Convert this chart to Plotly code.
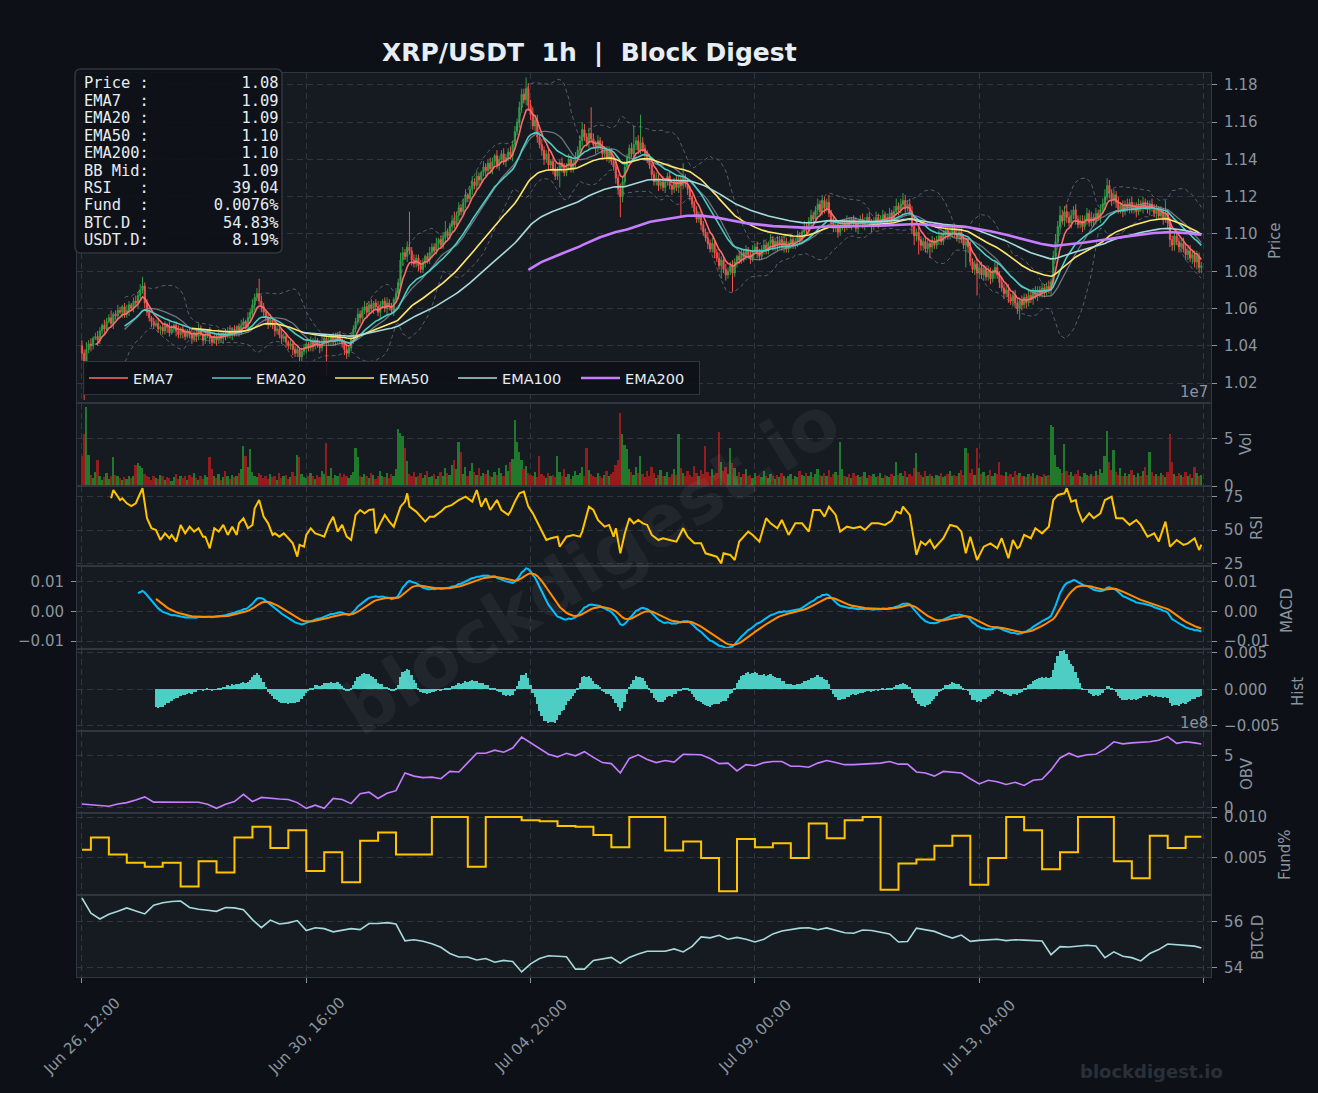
import numpy as np
import pandas as pd
import plotly.graph_objects as go
from plotly.subplots import make_subplots

# ---------------- data (hourly candles) ----------------
start_time = "2025-06-26 12:00"
first_open = 1.040

# closes in 1/1000 USDT
close_milli = [
    1036,1031,1038,1041,1040,1044,1045,1043,1048,1051,
    1049,1053,1055,1052,1057,1056,1059,1058,1061,1057,
    1059,1062,1060,1064,1063,1067,1070,1072,1063,1058,
    1055,1053,1051,1052,1049,1050,1048,1051,1050,1047,
    1049,1051,1048,1046,1049,1047,1045,1048,1046,1044,
    1047,1045,1049,1046,1043,1046,1047,1044,1042,1045,
    1043,1046,1044,1047,1045,1048,1046,1049,1047,1050,
    1048,1051,1053,1050,1055,1058,1062,1066,1068,1064,
    1061,1058,1055,1052,1054,1051,1048,1049,1046,1044,
    1045,1042,1040,1041,1038,1036,1038,1034,1037,1039,
    1041,1039,1042,1040,1043,1041,1039,1042,1044,1042,
    1043,1045,1042,1044,1046,1043,1041,1038,1036,1039,
    1044,1049,1053,1057,1055,1059,1061,1058,1062,1060,
    1063,1061,1058,1062,1064,1060,1063,1061,1059,1065,
    1068,1074,1086,1090,1088,1093,1091,1086,1084,1087,
    1083,1081,1085,1088,1086,1090,1093,1091,1095,1097,
    1094,1098,1101,1099,1104,1107,1105,1110,1114,1112,
    1117,1121,1119,1124,1128,1126,1131,1129,1133,1136,
    1134,1138,1135,1139,1142,1137,1140,1143,1139,1141,
    1144,1142,1148,1155,1160,1168,1175,1172,1178,1169,
    1164,1158,1161,1152,1148,1145,1140,1143,1137,1139,
    1135,1131,1134,1138,1136,1133,1137,1140,1135,1138,
    1141,1145,1150,1156,1152,1149,1154,1151,1148,1146,
    1150,1147,1143,1145,1141,1144,1139,1136,1130,1124,
    1120,1128,1136,1141,1146,1143,1148,1150,1145,1149,
    1146,1143,1140,1137,1132,1128,1130,1126,1128,1125,
    1128,1131,1126,1124,1128,1125,1129,1126,1130,1127,
    1124,1120,1116,1112,1108,1110,1105,1101,1098,1095,
    1092,1095,1090,1087,1083,1086,1081,1078,1080,1083,
    1079,1085,1088,1086,1090,1088,1091,1089,1087,1091,
    1093,1090,1088,1092,1094,1091,1095,1097,1093,1096,
    1094,1097,1093,1096,1092,1095,1097,1094,1096,1099,
    1097,1101,1104,1102,1107,1110,1108,1113,1116,1112,
    1118,1114,1117,1111,1106,1103,1105,1101,1104,1106,
    1104,1107,1105,1108,1106,1103,1106,1108,1105,1107,
    1109,1106,1104,1107,1109,1106,1108,1110,1107,1109,
    1111,1108,1112,1115,1113,1116,1118,1114,1116,1112,
    1104,1099,1101,1097,1094,1096,1092,1095,1093,1096,
    1094,1097,1099,1096,1100,1102,1099,1101,1103,1100,
    1098,1101,1097,1094,1096,1093,1085,1081,1084,1079,
    1082,1078,1081,1077,1080,1076,1079,1082,1078,1074,
    1071,1068,1070,1066,1064,1067,1063,1060,1064,1062,
    1066,1063,1067,1065,1069,1067,1070,1068,1071,1069,
    1072,1070,1074,1088,1096,1104,1110,1107,1112,1109,
    1106,1110,1113,1108,1105,1107,1104,1108,1111,1106,
    1109,1107,1111,1109,1113,1116,1120,1126,1122,1118,
    1121,1117,1113,1115,1112,1116,1114,1117,1113,1115,
    1112,1116,1114,1117,1115,1113,1116,1114,1111,1113,
    1110,1112,1108,1111,1106,1097,1094,1099,1096,1093,
    1095,1092,1089,1091,1087,1089,1085,1088,1082,1083,
]

# upper / lower wick lengths beyond the body, 1/1000 USDT
wick_up_milli = [
    3,2,4,2,3,1,2,3,2,1,3,2,2,4,1,2,3,2,1,2,3,2,1,2,3,
    2,3,5,2,2,3,1,2,2,3,1,2,2,1,3,2,1,2,3,1,2,2,1,2,3,
    1,2,3,2,1,2,2,3,1,2,1,3,2,1,2,2,3,1,2,1,2,3,2,1,3,
    2,3,2,3,8,3,2,1,2,3,1,2,2,1,3,2,2,1,3,1,2,2,1,2,2,
    2,1,3,2,2,1,2,3,1,2,2,1,2,3,1,2,1,2,2,1,3,2,2,3,2,
    2,3,2,2,3,1,2,3,2,1,2,3,2,2,1,3,2,4,3,2,3,19,2,3,2,
    2,3,2,1,2,3,2,2,3,1,2,3,6,2,2,3,5,2,3,2,2,3,1,2,3,
    2,3,2,1,3,2,2,3,2,1,3,2,2,3,2,2,3,2,3,2,3,3,3,6,3,
    3,4,2,3,2,3,2,2,3,1,2,3,2,2,3,2,1,3,2,2,3,2,3,4,3,
    2,3,14,3,2,3,2,3,2,2,3,2,2,3,2,3,2,3,2,2,3,10,2,3,15,
    3,2,2,3,1,2,3,2,2,3,2,2,3,1,2,3,2,2,8,2,3,2,1,2,3,
    2,3,2,2,3,2,3,2,2,3,2,2,3,2,2,3,2,1,3,2,2,3,2,2,3,
    2,3,2,2,3,2,1,3,2,2,3,2,2,3,2,1,3,2,2,3,2,2,3,2,2,
    3,2,2,3,2,3,2,2,4,2,3,2,2,3,2,2,3,2,1,2,3,2,2,3,2,
    2,3,2,2,3,2,2,3,2,2,3,2,3,4,2,3,4,3,2,3,3,2,2,3,2,
    2,3,2,2,3,2,2,3,2,2,3,2,3,2,2,3,2,2,3,2,2,3,2,2,3,
    2,3,2,2,3,2,2,3,2,2,3,2,2,3,2,2,3,2,2,3,2,2,3,2,2,
    3,2,2,3,2,2,3,2,3,4,3,5,3,3,4,3,3,2,3,2,3,3,2,3,2,
    3,2,3,2,3,3,4,4,3,2,3,2,3,2,3,2,3,2,3,2,2,3,2,3,2,
    3,2,3,2,3,2,3,2,7,2,3,2,2,3,2,2,3,2,2,3,2,2,3,2,2,
]
wick_dn_milli = [
    4,20,3,2,3,2,1,3,2,2,3,2,1,2,3,2,2,1,3,2,2,3,1,2,2,
    3,2,2,3,2,2,3,2,1,2,3,2,2,3,2,1,2,3,2,2,3,2,1,2,3,
    2,3,2,1,3,2,2,3,2,1,3,2,2,3,2,1,2,3,2,2,3,2,2,1,3,
    2,2,3,2,2,3,2,2,3,2,2,3,2,2,3,2,3,2,2,3,2,2,6,3,2,
    3,2,2,3,2,2,3,2,2,18,2,3,2,2,3,2,2,3,3,2,2,3,2,2,3,
    2,2,3,2,2,3,2,2,3,2,2,3,2,2,3,2,3,2,3,2,3,2,3,2,2,
    3,2,2,3,2,2,3,2,2,3,2,2,3,2,2,3,2,2,3,2,2,3,2,2,3,
    2,2,3,2,2,3,2,2,3,2,2,3,2,2,3,2,2,3,2,2,3,3,2,3,3,
    3,2,3,3,2,3,3,2,3,2,3,2,2,9,3,2,2,3,2,2,3,2,2,3,2,
    2,3,2,2,3,2,2,3,2,2,3,2,2,3,3,11,3,2,2,3,2,2,3,2,2,
    2,3,2,2,3,2,2,3,2,2,3,2,2,3,2,2,3,17,2,2,3,2,2,3,2,
    2,3,2,2,3,2,2,3,2,2,7,2,3,2,2,10,2,3,2,2,3,2,2,3,2,
    2,3,2,2,3,2,2,3,2,2,3,2,2,3,2,2,3,2,2,3,2,2,3,2,2,
    3,2,2,3,2,2,3,2,2,3,2,2,3,2,2,3,2,2,3,2,2,3,2,2,3,
    2,2,3,2,2,3,2,2,3,2,2,3,2,2,3,2,2,3,2,2,4,5,3,8,3,
    3,2,2,6,3,2,2,3,2,2,3,2,2,3,2,2,3,2,2,12,3,2,2,3,12,
    3,2,3,2,2,3,2,3,2,3,2,3,2,3,2,3,3,3,6,3,2,3,2,2,3,
    2,3,2,2,3,2,2,3,3,2,3,3,2,3,3,2,3,2,3,2,2,3,2,3,2,
    2,3,2,2,3,2,3,2,3,3,2,3,2,2,3,2,2,3,2,2,3,2,2,3,2,
    2,3,2,2,3,2,2,3,2,3,4,3,3,2,3,3,2,3,3,2,3,3,4,3,3,
]

# hourly volume in millions
volume_m = [
    31,55,83,33,12,8,15,27,10,6,   9,14,7,11,30,12,10,8,6,9,
    7,11,8,10,22,24,21,19,13,10,   9,6,11,8,7,12,10,6,9,8,
    5,9,13,7,11,8,10,6,12,9,       14,8,6,10,7,12,9,30,18,11,
    8,13,6,9,16,11,7,12,9,10,      14,18,42,31,20,39,15,11,9,14,
    12,8,10,7,13,9,11,6,14,8,      10,12,7,9,15,11,33,30,13,9,
    8,11,14,10,7,12,9,16,13,45,    11,19,8,12,10,14,9,13,11,8,
    12,15,40,30,11,9,13,10,8,14,   12,7,10,16,11,9,14,8,13,10,
    18,60,56,52,40,26,13,11,15,9,  10,14,8,12,16,9,11,13,7,10,
    15,11,19,14,12,22,27,18,46,36, 13,20,11,16,24,15,12,19,10,14,
    13,17,11,9,15,12,19,14,10,22,  16,25,28,69,46,36,27,18,21,14,
    12,10,15,9,31,13,11,8,14,10,   12,9,31,15,11,18,9,13,7,10,
    16,12,14,20,11,40,17,13,10,9,  14,11,8,12,16,10,13,15,22,27,
    76,55,43,39,18,15,12,20,14,31, 13,9,16,11,20,14,8,12,17,10,
    11,15,9,13,18,12,55,19,14,10,  16,12,9,21,14,11,17,13,42,15,
    10,18,12,14,57,25,16,20,13,40, 24,19,11,15,9,13,18,10,12,8,
    14,10,12,9,16,11,8,13,10,7,    12,9,14,11,8,10,13,7,11,9,
    16,12,10,14,11,15,9,13,18,12,  10,14,11,17,9,13,15,12,46,18,
    11,9,13,8,14,10,12,9,11,15,    8,12,10,13,9,11,14,8,12,10,
    9,13,11,25,12,14,10,16,9,13,   11,19,35,15,12,9,16,11,13,10,
    8,12,10,14,9,11,13,16,10,12,   11,14,17,12,40,35,14,18,12,40,
    19,13,15,10,12,17,11,14,13,25, 12,10,15,11,13,9,16,12,14,10,
    11,9,13,10,14,8,12,11,9,13,    10,12,64,62,33,20,18,14,44,16,
    12,15,10,13,17,11,9,14,12,10,  13,11,16,12,18,14,31,58,25,17,
    38,15,12,19,11,14,10,13,17,12, 9,14,11,16,20,12,36,15,11,13,
    10,14,12,9,15,55,25,13,11,14,  12,9,15,11,13,8,20,14,10,12,
]

# RSI: hour index -> value
rsi_hours = [
    13,14,16,17,18,20,22,24,25,27,29,31,33,35,37,39,40,42,44,46,48,50,52,54,55,57,59,61,63,65,
    67,69,70,72,74,76,77,79,81,83,85,86,88,90,92,94,96,97,99,100,102,104,106,108,110,112,114,115,116,118,
    120,122,124,126,128,130,131,133,135,137,139,142,144,145,146,149,151,153,155,157,160,162,165,168,171,174,176,178,180,182,
    185,187,190,191,193,195,197,199,201,204,207,209,212,213,216,219,222,223,226,228,230,233,235,237,238,240,242,244,246,248,
    250,252,254,257,259,262,265,268,270,273,276,278,281,283,285,286,289,291,293,295,297,299,302,305,307,310,312,315,318,321,
    324,326,329,331,333,336,338,341,344,347,349,352,355,358,361,363,365,366,369,372,374,376,378,380,382,384,387,390,392,394,
    396,399,402,405,408,410,413,415,417,418,420,423,425,428,431,433,435,438,439,441,443,444,446,449,451,454,456,459,461,464,
    467,470,472,475,478,480,483,485,488,491,493,496,498,499,
]
rsi_values = [
    73.8,80.0,75.0,72.5,73.8,70.0,68.0,70.0,73.8,81.3,58.8,51.3,50.0,42.5,47.5,43.8,46.3,41.3,53.8,47.5,52.5,48.8,51.3,45.0,45.0,36.3,51.3,48.8,53.8,46.3,
    52.5,46.3,55.0,58.8,51.3,53.8,66.3,72.5,60.0,55.0,46.3,47.5,45.0,47.5,43.8,40.0,30.0,38.8,37.5,46.3,51.3,47.5,46.3,45.0,53.8,60.0,48.8,51.3,53.8,45.0,
    42.5,61.3,65.0,62.5,65.0,65.5,47.5,55.0,61.3,56.3,52.5,67.5,71.3,77.5,67.5,63.8,60.0,56.3,60.0,60.0,63.8,67.0,68.8,72.5,75.0,71.3,80.0,67.5,73.8,65.0,
    72.5,65.0,61.3,63.8,71.3,77.5,78.8,67.5,62.5,52.5,42.5,43.8,45.0,37.5,45.0,46.3,45.0,48.8,67.5,65.0,57.5,52.5,53.8,45.0,51.3,32.5,47.5,58.8,55.0,57.5,
    55.0,53.8,46.3,42.5,43.8,42.5,41.3,51.3,45.0,40.0,40.0,32.5,31.3,30.0,25.0,32.5,31.3,27.5,41.3,45.0,48.8,46.3,41.3,58.8,55.0,51.3,57.5,46.3,55.0,55.0,
    48.8,65.0,65.0,60.0,67.5,61.3,48.8,52.5,51.3,52.5,50.0,55.0,55.0,53.8,57.0,63.8,62.5,67.5,61.3,31.3,41.3,38.8,42.5,36.3,40.0,43.8,53.8,52.5,48.8,32.5,
    45.0,27.5,37.5,40.0,36.3,43.8,28.8,42.5,36.3,37.5,46.3,43.8,51.3,47.5,52.5,72.5,76.3,77.5,81.3,71.3,72.5,65.0,56.3,62.5,58.8,62.5,72.5,75.0,58.8,58.8,
    53.8,57.5,53.8,45.0,47.5,41.3,56.3,37.5,42.5,38.8,40.0,43.8,35.0,39.0,
]

# OBV (1e8) and BTC dominance (%) read every 4 hours, plus the last hour
obv_e8 = [
    0.32,0.25,0.15,0.10,0.32,0.45,0.70,1.00,0.50,0.50,0.50,0.45,0.45,0.48,0.30,-0.10,0.30,0.55,1.25,0.55,0.95,0.85,0.80,0.75,0.45,
    -0.10,0.20,-0.10,0.85,0.75,0.35,1.30,1.45,0.85,1.35,1.60,3.30,3.00,2.85,2.90,2.75,3.45,3.40,4.30,5.20,5.20,5.50,5.30,5.70,6.75,
    6.20,5.60,5.10,4.85,5.20,4.95,5.35,4.80,4.30,4.20,3.30,4.70,5.05,4.60,4.30,4.50,4.35,5.10,5.10,5.05,4.70,4.20,4.25,3.50,4.10,
    4.00,4.30,4.40,4.40,3.95,3.95,3.85,4.25,4.50,4.30,4.10,4.10,4.15,4.15,4.25,4.40,4.15,4.15,3.40,3.30,3.00,3.45,3.40,3.30,2.75,
    2.25,2.60,2.45,2.20,2.40,2.10,2.60,2.70,3.60,4.75,5.20,4.85,5.05,5.10,5.60,6.30,6.10,6.20,6.25,6.30,6.45,6.80,6.15,6.30,6.20,
    6.09,
]
btc_dom = [
    57.01,56.35,56.10,56.30,56.43,56.58,56.45,56.32,56.70,56.80,56.86,56.88,56.60,56.52,56.48,56.43,56.60,56.58,56.50,56.07,55.72,56.05,55.88,55.93,56.03,
    55.60,55.72,55.68,55.54,55.60,55.68,55.64,55.90,55.90,55.94,55.88,55.15,55.20,55.13,55.02,54.87,54.60,54.45,54.45,54.32,54.38,54.22,54.30,54.25,53.80,
    54.15,54.38,54.50,54.48,54.46,53.92,53.92,54.30,54.38,54.43,54.18,54.43,54.58,54.70,54.70,54.70,54.80,54.67,54.91,55.32,55.28,55.39,55.22,55.30,55.22,
    55.10,55.22,55.45,55.58,55.65,55.70,55.72,55.63,55.71,55.62,55.50,55.48,55.62,55.60,55.54,55.45,55.10,55.12,55.70,55.64,55.56,55.40,55.27,55.40,55.13,
    55.17,55.20,55.22,55.16,55.20,55.18,55.17,55.14,54.55,54.90,54.88,54.92,54.96,54.93,54.42,54.67,54.48,54.42,54.28,54.60,54.77,55.01,54.98,54.97,54.92,
    54.84,
]

# funding rate (%) per 8-hour period (changes at 16:00 / 00:00 / 08:00)
funding_8h = [
    0.0060,0.0075,0.0054,0.0044,0.0039,0.0044,0.0015,0.0046,0.0032,0.0075,
    0.0088,0.0062,0.0084,0.0034,0.0057,0.0020,0.0071,0.0081,0.0054,0.0054,
    0.0100,0.0100,0.0039,0.0100,0.0100,0.0096,0.0095,0.0089,0.0088,0.0078,
    0.0063,0.0100,0.0100,0.0059,0.0070,0.0050,0.0009,0.0073,0.0063,0.0068,
    0.0050,0.0092,0.0074,0.0096,0.0100,0.0011,0.0043,0.0048,0.0065,0.0077,
    0.0017,0.0050,0.0100,0.0084,0.0036,0.0057,0.0100,0.0100,0.0046,0.0025,
    0.0077,0.0062,0.0076,
]

# info panel (as printed on the reference)
info_labels = ["Price :", "EMA7  :", "EMA20 :", "EMA50 :", "EMA200:", "BB Mid:", "RSI   :", "Fund  :", "BTC.D :", "USDT.D:"]
info_values = ["1.08", "1.09", "1.09", "1.10", "1.10", "1.09", "39.04", "0.0076%", "54.83%", "8.19%"]

price_ticks = [1.02, 1.04, 1.06, 1.08, 1.10, 1.12, 1.14, 1.16, 1.18]
vol_ticks = [0, 5]
rsi_ticks = [25, 50, 75]
macd_ticks = [-0.01, 0.0, 0.01]
hist_ticks = [-0.005, 0.0, 0.005]
obv_ticks = [0, 5]
fund_ticks = [0.005, 0.010]
btcd_ticks = [54, 56]

# ---------------- derived series ----------------
n = len(close_milli)
idx = np.arange(n)
times = pd.date_range(start_time, periods=n, freq="h")
close = np.array(close_milli) / 1000.0
open_ = np.r_[first_open, close[:-1]]
high = np.maximum(open_, close) + np.array(wick_up_milli) / 1000.0
low = np.minimum(open_, close) - np.array(wick_dn_milli) / 1000.0
vol = np.array(volume_m) * 1e6

s = pd.Series(close)
def ema(series, span):
    e = series.ewm(span=span, adjust=False).mean()
    e[: span - 1] = np.nan
    return e

emas = {p: ema(s, p) for p in (7, 20, 50, 100, 200)}
bb_mid = s.rolling(20).mean()
bb_std = s.rolling(20).std()
bb_up = bb_mid + 2 * bb_std
bb_lo = bb_mid - 2 * bb_std

macd = ema(s, 12) - ema(s, 26)
signal = macd.ewm(span=9, adjust=False, min_periods=9).mean()
hist = macd - signal

samp_x = list(range(0, n, 4)) + [n - 1]
fund_hourly = [funding_8h[(i + 4) // 8] for i in range(n)]

# ---------------- styling ----------------
BG = "#0d1117"
PANEL = "#161b22"
GRID = "#30363d"
TXT = "#8b949e"
WHITE = "#e6edf3"
GREEN = "#2ea043"
RED = "#f85149"
FONT = "DejaVu Sans"

W, H = 1318, 1093
L, R, T, B = 77, 1211, 73, 977
def fx(x):
    return (x - L) / (R - L)
def fy(y):
    return (B - y) / (B - T)

fig = make_subplots(rows=8, cols=1, shared_xaxes=True, vertical_spacing=0,
                    row_heights=[330, 83, 80, 83, 82, 82, 82, 82])

# price panel
bbstyle = dict(color="rgba(139,148,158,0.55)", width=1, dash="4px,3px")
fig.add_trace(go.Scatter(x=idx, y=bb_up, mode="lines", line=bbstyle, showlegend=False, hoverinfo="skip"), 1, 1)
fig.add_trace(go.Scatter(x=idx, y=bb_lo, mode="lines", line=bbstyle, showlegend=False, hoverinfo="skip"), 1, 1)
fig.add_trace(go.Scatter(x=idx, y=bb_mid, mode="lines", line=dict(color="rgba(139,148,158,0.75)", width=1.3),
                         showlegend=False, hoverinfo="skip"), 1, 1)
fig.add_trace(go.Candlestick(x=idx, open=open_, high=high, low=low, close=close,
                             increasing=dict(line=dict(color=GREEN, width=1), fillcolor=GREEN),
                             decreasing=dict(line=dict(color=RED, width=1), fillcolor=RED),
                             whiskerwidth=0, showlegend=False), 1, 1)
ema_style = [(7, "EMA7", "#ff6b6b", 1.6), (20, "EMA20", "#4ecdc4", 1.6), (50, "EMA50", "#ffe66d", 1.6),
             (100, "EMA100", "#a8dadc", 1.6), (200, "EMA200", "#c77dff", 2.6)]
for p, name, col, w in ema_style:
    fig.add_trace(go.Scatter(x=idx, y=emas[p], mode="lines", name=name, line=dict(color=col, width=w)), 1, 1)

# volume
vol_colors = np.where(close >= open_, "#1f7a2c", "#951c1c")
fig.add_trace(go.Bar(x=idx, y=vol / 1e7, marker=dict(color=vol_colors, line=dict(width=0)), width=0.8,
                     showlegend=False), 2, 1)
# RSI
fig.add_trace(go.Scatter(x=rsi_hours, y=rsi_values, mode="lines", line=dict(color="#ffc300", width=2),
                         showlegend=False), 3, 1)
# MACD
fig.add_trace(go.Scatter(x=idx, y=macd, mode="lines", line=dict(color="#00bfff", width=2), showlegend=False), 4, 1)
fig.add_trace(go.Scatter(x=idx, y=signal, mode="lines", line=dict(color="#ff8c00", width=2), showlegend=False), 4, 1)
# histogram
fig.add_trace(go.Bar(x=idx, y=hist, marker=dict(color="#4ecdc4", line=dict(width=0)), width=0.8,
                     showlegend=False), 5, 1)
# OBV
fig.add_trace(go.Scatter(x=samp_x, y=obv_e8, mode="lines", line=dict(color="#c77dff", width=1.6), showlegend=False), 6, 1)
# funding
fig.add_trace(go.Scatter(x=idx, y=fund_hourly, mode="lines", line=dict(color="#ffc300", width=2, shape="hv"),
                         showlegend=False), 7, 1)
# BTC dominance
fig.add_trace(go.Scatter(x=samp_x, y=btc_dom, mode="lines", line=dict(color="#a8dadc", width=1.6), showlegend=False), 8, 1)

# left-hand MACD axis (twin)
fig.add_trace(go.Scatter(x=idx, y=macd, mode="lines", line=dict(width=0, color="rgba(0,0,0,0)"),
                         xaxis="x4", yaxis="y9", showlegend=False, hoverinfo="skip"))

# ---------------- axes ----------------
tickvals = [0, 100, 200, 300, 400, 500]
ticktext = [times[i].strftime("%b %d, %H:%M") if i < n else "" for i in tickvals]
for r in range(1, 9):
    fig.update_xaxes(row=r, col=1, range=[-2.2, 503.3], tickvals=tickvals,
                     showticklabels=False,
                     showgrid=True, gridcolor=GRID, griddash="6px,4px", gridwidth=1,
                     showline=True, linecolor=GRID, linewidth=1.2, mirror=True,
                     ticks="outside" if r == 8 else "", ticklen=5, tickcolor=TXT,
                     zeroline=False, rangeslider_visible=False)

def fmt(v, d):
    t = f"{abs(v):.{d}f}"
    return ("\u2212" + t) if v < 0 else t

yspecs = [
    (1, [1.0093, 1.1864], price_ticks, [fmt(v, 2) for v in price_ticks]),
    (2, [0, 8.7], vol_ticks, [str(v) for v in vol_ticks]),
    (3, [23.0, 83.0], rsi_ticks, [str(v) for v in rsi_ticks]),
    (4, [-0.0126, 0.0151], macd_ticks, [fmt(v, 2) for v in macd_ticks]),
    (5, [-0.0057, 0.0055], hist_ticks, [fmt(v, 3) for v in hist_ticks]),
    (6, [-0.55, 7.34], obv_ticks, [str(v) for v in obv_ticks]),
    (7, [0.00045, 0.0105], fund_ticks, [fmt(v, 3) for v in fund_ticks]),
    (8, [53.58, 57.14], btcd_ticks, [str(v) for v in btcd_ticks]),
]
for r, rng, tv, tt in yspecs:
    fig.update_yaxes(row=r, col=1, range=rng, tickvals=tv, ticktext=tt, side="right",
                     tickfont=dict(family=FONT, size=15, color=TXT),
                     showgrid=True, gridcolor=GRID, griddash="6px,4px", gridwidth=1,
                     showline=True, linecolor=GRID, linewidth=1.2, mirror=True,
                     ticks="outside", ticklen=5, tickcolor=TXT, zeroline=False,
                     ticklabelstandoff=4)

fig.update_layout(yaxis9=dict(overlaying="y4", anchor="x4", side="left", range=[-0.0126, 0.0151],
                              tickvals=macd_ticks, ticktext=[fmt(v, 2) for v in macd_ticks],
                              tickfont=dict(family=FONT, size=15, color=TXT), showgrid=False,
                              ticks="outside", ticklen=5, tickcolor=TXT, zeroline=False, showline=False,
                              ticklabelstandoff=4))

# ---------------- annotations ----------------
ann = []
ann.append(dict(text="<b>XRP/USDT\u00a0\u00a01h\u00a0\u00a0|\u00a0\u00a0Block Digest</b>", x=fx(589), y=fy(52),
                xref="paper", yref="paper", showarrow=False, xanchor="center", yanchor="middle",
                font=dict(family=FONT, size=25, color=WHITE)))
for label, xc, yc in [("Price", 1275, 241), ("Vol", 1246, 444), ("RSI", 1257, 528), ("MACD", 1287, 611),
                      ("Hist", 1298, 692), ("OBV", 1247, 774), ("Fund%", 1285, 855), ("BTC.D", 1258, 938)]:
    ann.append(dict(text=label, x=fx(xc), y=fy(yc), xref="paper", yref="paper", showarrow=False,
                    textangle=-90, xanchor="center", yanchor="middle",
                    font=dict(family=FONT, size=15, color=TXT)))
for label, yc in [("1e7", 392), ("1e8", 723)]:
    ann.append(dict(text=label, x=fx(1210), y=fy(yc), xref="paper", yref="paper", showarrow=False,
                    xanchor="right", yanchor="middle", font=dict(family=FONT, size=15, color=TXT)))
# rotated date labels centred on their ticks
for tv, tt in zip(tickvals, ticktext):
    if tt:
        ann.append(dict(text=tt, x=tv, xref="x8", y=fy(1036), yref="paper", showarrow=False,
                        textangle=-45, xanchor="center", yanchor="middle",
                        font=dict(family=FONT, size=15, color=TXT)))

for k, (lab, val) in enumerate(zip(info_labels, info_values)):
    line = (lab + val.rjust(14)).replace(" ", "\u00a0")
    ann.append(dict(text=line, x=fx(81.5), y=fy(83.3 + 17.45 * k), xref="paper", yref="paper",
                    showarrow=False, xanchor="left", yanchor="middle",
                    font=dict(family="DejaVu Sans Mono", size=15.4, color=WHITE)))

ann.append(dict(text="<b>blockdigest.io</b>", x=fx(590), y=fy(565), xref="paper", yref="paper",
                showarrow=False, textangle=-32, xanchor="center", yanchor="middle",
                font=dict(family=FONT, size=72, color="rgba(255,255,255,0.05)")))
ann.append(dict(text="<b>blockdigest.io</b>", x=fx(1151), y=fy(1071), xref="paper", yref="paper",
                showarrow=False, xanchor="center", yanchor="middle",
                font=dict(family=FONT, size=18, color="#2a3038")))

# info box with rounded corners
bx0, bx1, by0, by1, rad = 75, 282, 69, 253, 6
def P(x, y):
    return f"{fx(x):.5f},{fy(y):.5f}"
path = (f"M {P(bx0 + rad, by0)} L {P(bx1 - rad, by0)} Q {P(bx1, by0)} {P(bx1, by0 + rad)} "
        f"L {P(bx1, by1 - rad)} Q {P(bx1, by1)} {P(bx1 - rad, by1)} "
        f"L {P(bx0 + rad, by1)} Q {P(bx0, by1)} {P(bx0, by1 - rad)} "
        f"L {P(bx0, by0 + rad)} Q {P(bx0, by0)} {P(bx0 + rad, by0)} Z")
shapes = [dict(type="path", path=path, xref="paper", yref="paper",
               fillcolor="rgba(13,17,23,0.9)", line=dict(color="#30363d", width=1.5))]

fig.update_layout(
    width=W, height=H,
    margin=dict(l=L, r=W - R, t=T, b=H - B, autoexpand=False),
    paper_bgcolor=BG, plot_bgcolor=PANEL,
    font=dict(family=FONT, color=TXT),
    showlegend=True,
    legend=dict(orientation="h", x=fx(83), y=fy(395), xanchor="left", yanchor="bottom",
                bgcolor="rgba(13,17,23,0.9)", bordercolor="#30363d", borderwidth=1,
                font=dict(family=FONT, size=14.5, color=WHITE), itemwidth=39,
                entrywidth=69, entrywidthmode="pixels", tracegroupgap=0),
    annotations=ann, shapes=shapes,
    bargap=0, hovermode=False,
)

fig.write_html("out.html")
